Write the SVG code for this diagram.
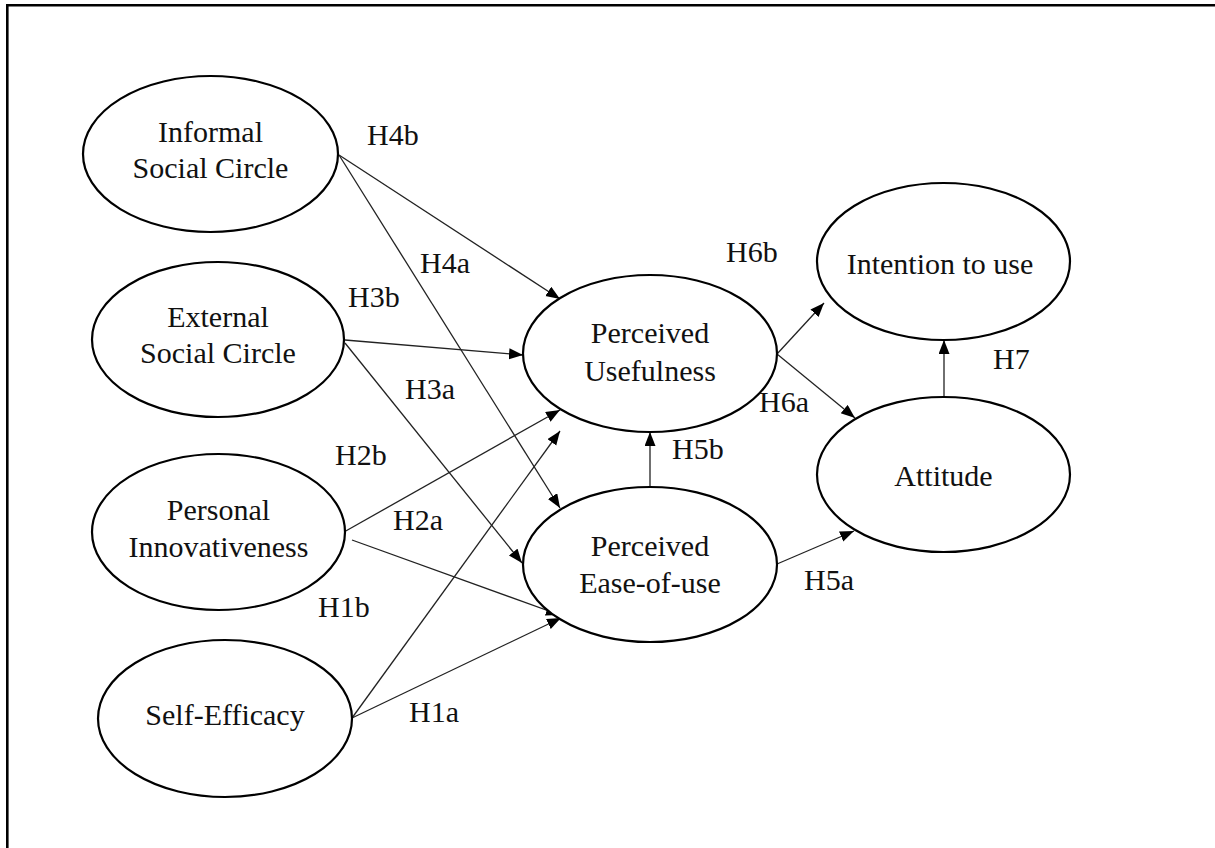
<svg xmlns="http://www.w3.org/2000/svg" width="1215" height="848" viewBox="0 0 1215 848">
<style>
.node{fill:#fff;stroke:#000;stroke-width:2.2}
.lbl{font-family:"Liberation Serif","Times New Roman",serif;font-size:30px;fill:#111}
.nt{text-anchor:middle}
.conn line{stroke:#222;stroke-width:1.3;marker-end:url(#arr)}
</style>
<defs>
<marker id="arr" markerUnits="userSpaceOnUse" markerWidth="15" markerHeight="12" refX="14" refY="5.5" orient="auto">
<path d="M0,0 L14,5.5 L0,11 z" fill="#000"/>
</marker>
</defs>
<rect width="1215" height="848" fill="#fff"/>
<g id="frame" stroke="#000" stroke-width="2.6" fill="none">
<line x1="7.3" y1="5.3" x2="1215" y2="5.3"/>
<line x1="7.3" y1="4" x2="7.3" y2="848"/>
</g>
<g id="connectors" class="conn">
<line x1="339" y1="155" x2="560" y2="299"/>
<line x1="339" y1="155" x2="560" y2="508"/>
<line x1="345" y1="340" x2="523" y2="355"/>
<line x1="345" y1="343" x2="522" y2="563"/>
<line x1="344" y1="532" x2="560" y2="410"/>
<line x1="352" y1="540" x2="560" y2="615"/>
<line x1="352" y1="718" x2="561" y2="618"/>
<line x1="352" y1="718" x2="560" y2="431"/>
<line x1="650" y1="487" x2="650" y2="432"/>
<line x1="777" y1="354" x2="824" y2="303"/>
<line x1="777" y1="354" x2="855" y2="418"/>
<line x1="777" y1="564" x2="854" y2="531"/>
<line x1="944" y1="397" x2="944" y2="340"/>
</g>
<g id="labels" class="lbl">
<text x="367" y="145">H4b</text>
<text x="420" y="273">H4a</text>
<text x="348" y="307">H3b</text>
<text x="405" y="399">H3a</text>
<text x="335" y="465">H2b</text>
<text x="393" y="530">H2a</text>
<text x="318" y="617">H1b</text>
<text x="409" y="722">H1a</text>
<text x="726" y="262">H6b</text>
<text x="759" y="412">H6a</text>
<text x="672" y="459">H5b</text>
<text x="804" y="590">H5a</text>
<text x="993" y="369">H7</text>
</g>
<g id="informal"><ellipse class="node" cx="210.5" cy="154" rx="127.5" ry="78"/><text class="lbl nt" x="210.5" y="142">Informal</text><text class="lbl nt" x="210.5" y="178">Social Circle</text></g>
<g id="external"><ellipse class="node" cx="218" cy="339.5" rx="126" ry="77.5"/><text class="lbl nt" x="218" y="327">External</text><text class="lbl nt" x="218" y="363">Social Circle</text></g>
<g id="personal"><ellipse class="node" cx="218.5" cy="532" rx="126.5" ry="78"/><text class="lbl nt" x="218.5" y="520">Personal</text><text class="lbl nt" x="218.5" y="557">Innovativeness</text></g>
<g id="selfefficacy"><ellipse class="node" cx="225" cy="718.5" rx="127" ry="78.5"/><text class="lbl nt" x="225" y="725">Self-Efficacy</text></g>
<g id="usefulness"><ellipse class="node" cx="650" cy="353.5" rx="127" ry="78.5"/><text class="lbl nt" x="650" y="343">Perceived</text><text class="lbl nt" x="650" y="381">Usefulness</text></g>
<g id="easeofuse"><ellipse class="node" cx="650" cy="564.5" rx="127" ry="77.5"/><text class="lbl nt" x="650" y="556">Perceived</text><text class="lbl nt" x="650" y="593">Ease-of-use</text></g>
<g id="intention"><ellipse class="node" cx="943.5" cy="261.5" rx="126.5" ry="78.5"/><text class="lbl nt" x="940" y="274">Intention to use</text></g>
<g id="attitude"><ellipse class="node" cx="943.5" cy="474.5" rx="126.5" ry="77.5"/><text class="lbl nt" x="943.5" y="486">Attitude</text></g>
</svg>
